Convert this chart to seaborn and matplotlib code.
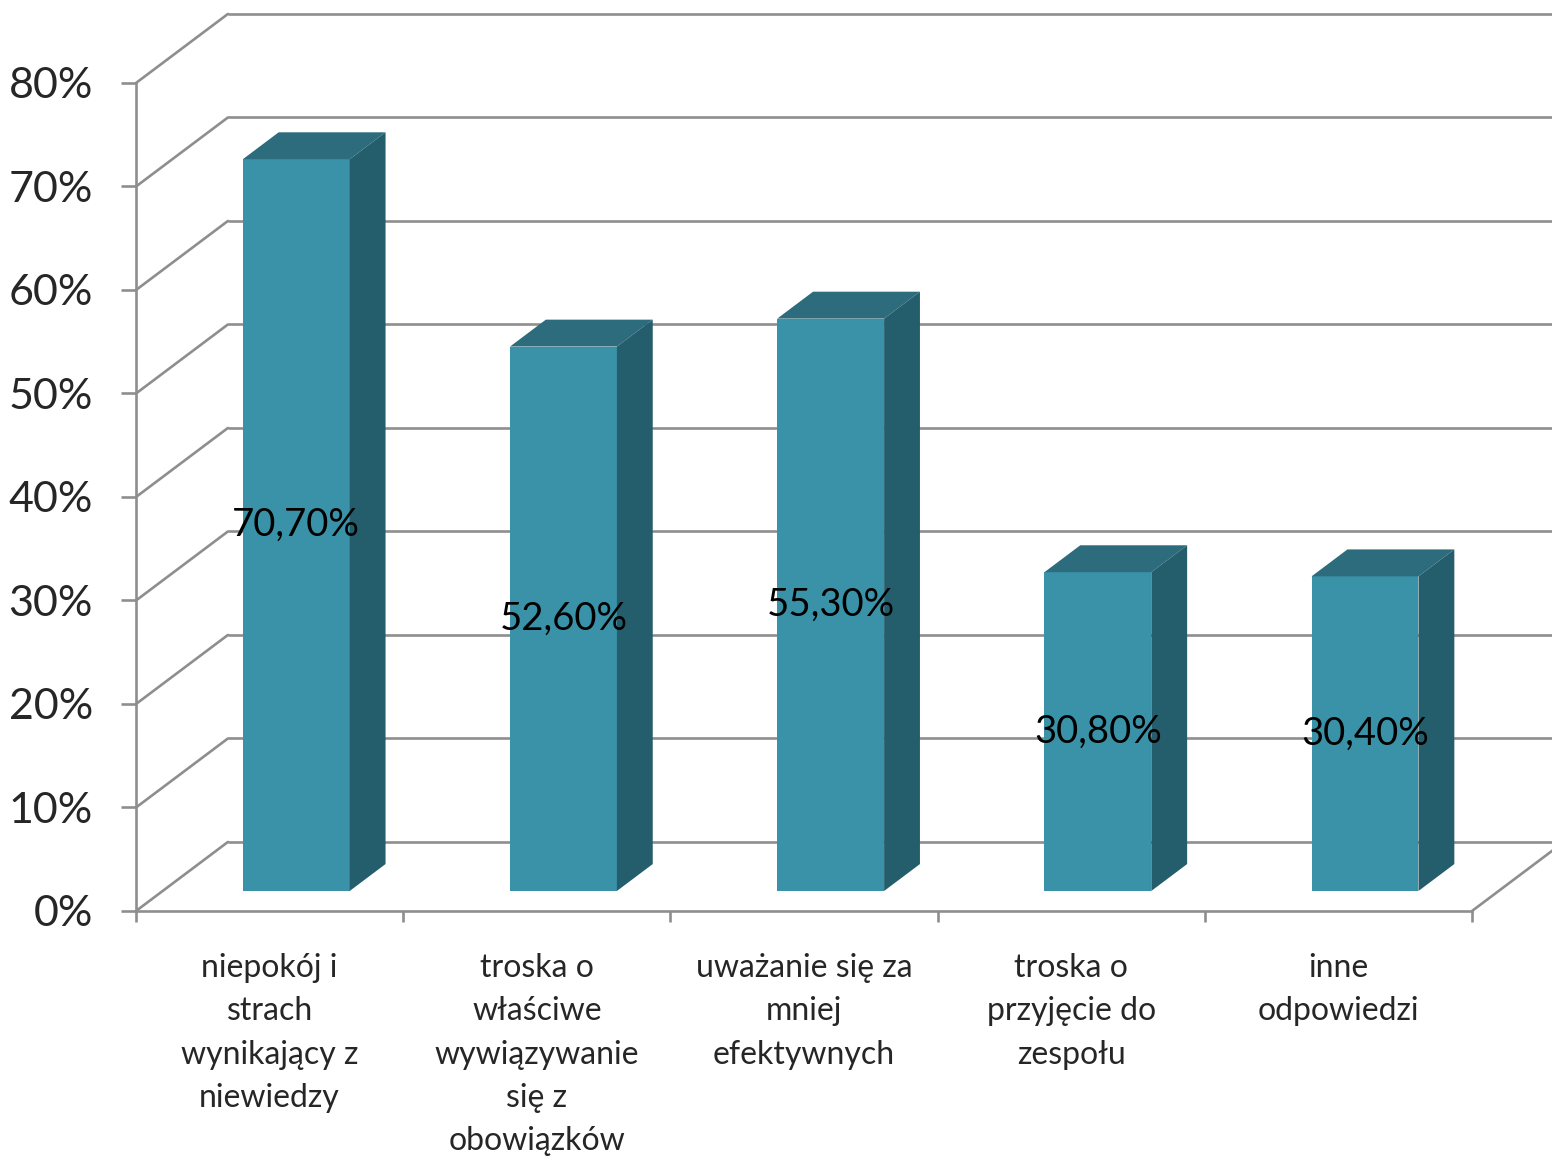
import matplotlib
matplotlib.use("Agg")
import matplotlib.pyplot as plt
import matplotlib.transforms as mtransforms
import seaborn as sns

# data
categories = [
    "niepokój i\nstrach\nwynikający z\nniewiedzy",
    "troska o\nwłaściwe\nwywiązywanie\nsię z\nobowiązków",
    "uważanie się za\nmniej\nefektywnych",
    "troska o\nprzyjęcie do\nzespołu",
    "inne\nodpowiedzi",
]
values = [70.7, 52.6, 55.3, 30.8, 30.4]
y_ticks = [0, 10, 20, 30, 40, 50, 60, 70, 80]

# colours for the faux-3D columns
front_col = "#3A92A8"
top_col = "#2C6C7D"
side_col = "#245D6B"
grid_col = "#8E8E8E"

# depth of the chart box expressed in data units (x: categories, y: percent)
DX, DY = 0.344, 6.67
D0, D1 = 0.29, 0.68      # front / back depth of the bars
BAR_W = 0.4

sns.set_style("white")
plt.rcParams["font.family"] = ["Lato", "DejaVu Sans"]

fig = plt.figure(figsize=(15.52, 11.58), dpi=100)
ax = fig.add_axes([0.08763, 0.21330, 0.86082, 0.71503])
ax.set_xlim(-0.5, len(values) - 0.5)
ax.set_ylim(0, 80)
ax.patch.set_alpha(0)

# walls: back wall gridlines, left wall diagonals, floor right edge
x0, x1 = -0.5, len(values) - 0.5
for v in y_ticks:
    ax.plot([x0 + DX, x1 + DX], [v + DY, v + DY], color=grid_col, lw=1.9,
            clip_on=False, zorder=1, solid_capstyle="butt")
    ax.plot([x0, x0 + DX], [v, v + DY], color=grid_col, lw=1.9,
            clip_on=False, zorder=1)
ax.plot([x1, x1 + DX], [0, DY], color=grid_col, lw=1.9, clip_on=False, zorder=1)

# front faces through seaborn, shifted into the box depth
sns.barplot(x=list(range(len(values))), y=values, width=BAR_W, color=front_col,
            saturation=1, ax=ax, zorder=3)
shift = mtransforms.Affine2D().translate(D0 * DX, D0 * DY) + ax.transData
for p in ax.patches:
    p.set_transform(shift)
    p.set_clip_on(False)
    p.set_linewidth(0)

# top and side faces
for i, v in enumerate(values):
    xl, xr = i - BAR_W / 2, i + BAR_W / 2
    fx, fy = D0 * DX, D0 * DY
    bx, by = D1 * DX, D1 * DY
    ax.fill([xl + fx, xr + fx, xr + bx, xl + bx], [v + fy, v + fy, v + by, v + by],
            color=top_col, lw=0, clip_on=False, zorder=3)
    ax.fill([xr + fx, xr + bx, xr + bx, xr + fx], [fy, by, v + by, v + fy],
            color=side_col, lw=0, clip_on=False, zorder=3)
    label = f"{v:.2f}%".replace(".", ",")
    ax.text(i + fx, fy + v / 2, label, ha="center", va="center",
            fontsize=27.5, color="black", zorder=5)

# axes lines and ticks
for s in ["top", "right"]:
    ax.spines[s].set_visible(False)
for s in ["left", "bottom"]:
    ax.spines[s].set_color(grid_col)
    ax.spines[s].set_linewidth(1.9)
    ax.spines[s].set_zorder(2)

ax.set_yticks(y_ticks)
ax.set_yticklabels([f"{t}%" for t in y_ticks], fontsize=31)
ax.tick_params(axis="y", length=11, width=1.9, color=grid_col, pad=20, left=True)

ax.set_xticks([i - 0.5 for i in range(len(values) + 1)])
ax.set_xticklabels([])
ax.set_xticks(range(len(values)), minor=True)
ax.set_xticklabels(categories, minor=True, fontsize=23, linespacing=1.56)
ax.tick_params(axis="x", which="major", length=8, width=1.9, color=grid_col,
               bottom=True, direction="out")
ax.tick_params(axis="x", which="minor", length=0, pad=30)
ax.set_xlabel("")
ax.set_ylabel("")

fig.savefig("out.png", dpi=100)
